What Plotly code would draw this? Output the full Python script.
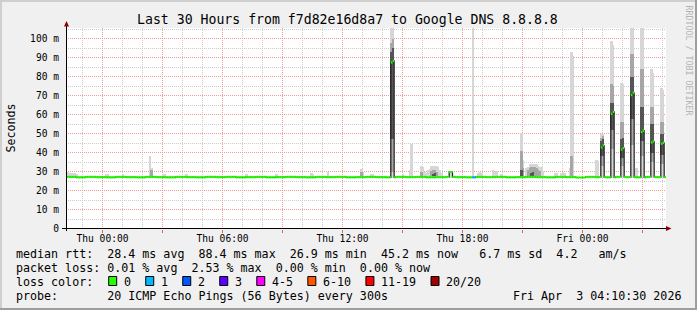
import plotly.graph_objects as go
from datetime import datetime, timedelta

# ------------------------------------------------------------------ data
range_start = "2026-04-01 22:10:30"
range_end = "2026-04-03 04:10:30"
first_step = "2026-04-01 22:10"
step_minutes = 5
n_steps = 360

title_text = "Last 30 Hours from f7d82e16d8a7 to Google DNS 8.8.8.8"
y_title = "Seconds"
watermark = "RRDTOOL / TOBI OETIKER"

y_tick_vals = [0, 10, 20, 30, 40, 50, 60, 70, 80, 90, 100]
y_tick_text = ["0", "10 m", "20 m", "30 m", "40 m", "50 m", "60 m", "70 m", "80 m", "90 m", "100 m"]

x_tick_times = ["2026-04-02 00:00", "2026-04-02 03:00", "2026-04-02 06:00", "2026-04-02 09:00",
                "2026-04-02 12:00", "2026-04-02 15:00", "2026-04-02 18:00", "2026-04-02 21:00",
                "2026-04-03 00:00", "2026-04-03 03:00"]
x_tick_labels = ["Thu 00:00", "", "Thu 06:00", "", "Thu 12:00", "", "Thu 18:00", "", "Fri 00:00", ""]

# median rtt baseline, one value per 30 minutes (ms)
base_median_ms = [27.2, 27.0, 27.2, 27.1, 27.0, 27.2, 27.1, 27.0, 27.2, 27.1,
                  27.0, 27.2, 27.1, 27.0, 27.2, 27.1, 27.2, 27.0, 27.1, 27.2,
                  27.0, 27.1, 27.2, 27.1, 27.0, 27.2, 27.1, 27.2, 27.0, 27.1,
                  27.2, 27.1, 27.0, 27.2, 27.1, 27.2, 27.0, 27.1, 27.2, 27.1,
                  27.0, 27.2, 27.1, 27.2, 27.0, 27.1, 27.2, 27.1, 27.0, 27.2,
                  27.1, 26.9, 27.2, 27.1, 27.0, 27.2, 27.1, 27.0, 27.2, 27.1]

# steps where the median leaves the baseline
spike_times = ["2026-04-02 14:25", "2026-04-02 14:30", "2026-04-02 17:20", "2026-04-02 17:25",
               "2026-04-03 00:55", "2026-04-03 01:00", "2026-04-03 01:25", "2026-04-03 01:30",
               "2026-04-03 01:55", "2026-04-03 02:00", "2026-04-03 02:25", "2026-04-03 02:30",
               "2026-04-03 02:55", "2026-04-03 03:00", "2026-04-03 03:25", "2026-04-03 03:30",
               "2026-04-03 03:55", "2026-04-03 04:00"]
spike_median_ms = [87.6, 88.4, 29.8, 29.8,
                   42.7, 43.8, 60.5, 61.5,
                   41.6, 42.4, 70.4, 71.6,
                   50.9, 51.6, 45.4, 45.9,
                   44.7, 45.2]

# steps with lost pings (count out of 20)
loss_times = ["2026-04-02 18:30", "2026-04-02 18:35"]
loss_counts = [1, 1]

loss_labels = ["0", "1", "2", "3", "4-5", "6-10", "11-19", "20/20"]
loss_colors = ["#26ff00", "#00b8ff", "#0059ff", "#5e00ff", "#ff00ff", "#ff5500", "#ff0000", "#a10000"]

# smoke: outer band (min..max of the 20 pings)
smoke_floor_ms = 26.8
smoke_times = ["2026-04-01 22:10", "2026-04-01 22:15", "2026-04-01 22:20", "2026-04-01 22:25",
               "2026-04-01 22:30", "2026-04-01 22:35", "2026-04-01 22:40", "2026-04-02 00:10",
               "2026-04-02 00:15", "2026-04-02 01:00", "2026-04-02 02:20", "2026-04-02 02:25",
               "2026-04-02 03:00", "2026-04-02 03:05", "2026-04-02 04:10", "2026-04-02 07:10",
               "2026-04-02 08:40", "2026-04-02 10:25", "2026-04-02 10:30", "2026-04-02 11:15",
               "2026-04-02 12:55", "2026-04-02 13:00", "2026-04-02 13:25", "2026-04-02 13:30",
               "2026-04-02 14:25", "2026-04-02 14:30", "2026-04-02 15:00", "2026-04-02 15:20",
               "2026-04-02 15:25", "2026-04-02 15:55", "2026-04-02 16:00", "2026-04-02 16:05",
               "2026-04-02 16:10", "2026-04-02 16:15", "2026-04-02 16:20", "2026-04-02 16:25",
               "2026-04-02 16:30", "2026-04-02 16:35", "2026-04-02 16:40", "2026-04-02 16:45",
               "2026-04-02 16:50", "2026-04-02 16:55", "2026-04-02 17:20", "2026-04-02 17:25",
               "2026-04-02 18:30", "2026-04-02 18:45", "2026-04-02 18:50", "2026-04-02 18:55",
               "2026-04-02 19:30", "2026-04-02 19:35", "2026-04-02 19:40", "2026-04-02 19:55",
               "2026-04-02 20:55", "2026-04-02 21:00", "2026-04-02 21:10", "2026-04-02 21:15",
               "2026-04-02 21:20", "2026-04-02 21:25", "2026-04-02 21:30", "2026-04-02 21:35",
               "2026-04-02 21:40", "2026-04-02 21:45", "2026-04-02 21:50", "2026-04-02 21:55",
               "2026-04-02 22:00", "2026-04-02 22:35", "2026-04-02 22:40", "2026-04-02 22:55",
               "2026-04-02 23:00", "2026-04-02 23:05", "2026-04-02 23:20", "2026-04-02 23:25",
               "2026-04-02 23:30", "2026-04-03 00:40", "2026-04-03 00:45", "2026-04-03 00:55",
               "2026-04-03 01:00", "2026-04-03 01:25", "2026-04-03 01:30", "2026-04-03 01:55",
               "2026-04-03 02:00", "2026-04-03 02:25", "2026-04-03 02:30", "2026-04-03 02:40",
               "2026-04-03 02:55", "2026-04-03 03:00", "2026-04-03 03:25", "2026-04-03 03:30",
               "2026-04-03 03:55", "2026-04-03 04:00"]
smoke_max_ms = [30.0, 29.8, 29.5, 29.5,
                29.3, 29.3, 29.0, 28.8,
                28.6, 28.6, 38.0, 32.0,
                28.8, 28.8, 28.5, 28.5,
                28.5, 29.4, 29.0, 30.0,
                31.5, 30.0, 29.0, 29.0,
                115.0, 115.0, 29.0, 31.0,
                44.7, 33.0, 32.5, 30.0,
                29.5, 31.0, 31.5, 33.0,
                33.0, 33.0, 33.0, 32.5,
                31.0, 29.5, 30.5, 30.5,
                115.0, 29.5, 30.0, 29.5,
                31.0, 30.0, 30.5, 29.0,
                50.4, 36.0, 32.0, 32.5,
                34.0, 34.0, 34.0, 34.0,
                33.8, 33.0, 32.5, 32.5,
                30.5, 29.5, 29.5, 29.5,
                29.6, 29.4, 32.0, 93.0,
                91.0, 36.0, 35.5, 50.0,
                50.0, 99.0, 97.0, 77.0,
                76.0, 115.0, 115.0, 32.0,
                115.0, 112.0, 84.0, 82.0,
                74.0, 73.0]

# smoke: middle band
mid_times = ["2026-04-02 02:25", "2026-04-02 12:55", "2026-04-02 14:25", "2026-04-02 14:30",
             "2026-04-02 15:55", "2026-04-02 16:25", "2026-04-02 16:30", "2026-04-02 16:35",
             "2026-04-02 16:40", "2026-04-02 20:55", "2026-04-02 21:00", "2026-04-02 21:15",
             "2026-04-02 21:20", "2026-04-02 21:25", "2026-04-02 21:30", "2026-04-02 21:35",
             "2026-04-02 21:40", "2026-04-02 21:45", "2026-04-02 21:50", "2026-04-02 23:25",
             "2026-04-03 00:55", "2026-04-03 01:00", "2026-04-03 01:25", "2026-04-03 01:30",
             "2026-04-03 01:55", "2026-04-03 02:00", "2026-04-03 02:25", "2026-04-03 02:30",
             "2026-04-03 02:55", "2026-04-03 03:00", "2026-04-03 03:25", "2026-04-03 03:30",
             "2026-04-03 03:55", "2026-04-03 04:00"]
mid_lo_ms = [27.5, 27.5, 30.0, 30.0,
             27.5, 27.5, 27.5, 27.5,
             27.5, 27.5, 27.5, 27.5,
             27.5, 27.5, 27.5, 27.5,
             27.5, 27.5, 27.5, 27.5,
             33.0, 33.0, 42.0, 42.0,
             33.0, 33.0, 44.0, 44.0,
             38.0, 38.0, 35.0, 35.0,
             34.0, 34.0]
mid_hi_ms = [31.0, 30.0, 98.0, 100.0,
             30.0, 30.5, 31.0, 31.0,
             30.0, 41.0, 32.0, 31.0,
             32.0, 32.5, 32.5, 32.5,
             32.0, 31.0, 30.5, 38.0,
             48.0, 49.0, 76.0, 75.0,
             56.0, 56.0, 92.0, 92.0,
             84.0, 84.0, 64.0, 64.0,
             56.0, 56.0]

# smoke: dark core band
core_times = ["2026-04-02 14:25", "2026-04-02 14:30", "2026-04-02 16:30", "2026-04-02 16:35",
              "2026-04-02 20:55", "2026-04-02 21:25", "2026-04-02 21:30",
              "2026-04-03 00:55", "2026-04-03 01:00", "2026-04-03 01:25", "2026-04-03 01:30",
              "2026-04-03 01:55", "2026-04-03 02:00", "2026-04-03 02:25", "2026-04-03 02:30",
              "2026-04-03 02:55", "2026-04-03 03:00", "2026-04-03 03:25", "2026-04-03 03:30",
              "2026-04-03 03:55", "2026-04-03 04:00"]
core_lo_ms = [47.0, 47.0, 27.5, 27.5,
              27.5, 27.5, 27.5,
              38.0, 38.0, 52.0, 52.0,
              37.0, 37.0, 58.0, 58.0,
              46.0, 46.0, 40.0, 40.0,
              39.0, 39.0]
core_hi_ms = [93.0, 95.0, 29.0, 29.5,
              31.0, 29.5, 30.0,
              46.0, 47.0, 66.0, 66.0,
              47.0, 48.0, 80.0, 80.0,
              64.0, 64.0, 55.0, 55.0,
              50.0, 50.0]

stat_median = ["28.4 ms avg", "88.4 ms max", "26.9 ms min", "45.2 ms now", "6.7 ms sd", "4.2", "am/s"]
stat_loss = ["0.01 % avg", "2.53 % max", "0.00 % min", "0.00 % now"]
probe_text = "20 ICMP Echo Pings (56 Bytes) every 300s"
stamp_text = "Fri Apr  3 04:10:30 2026"

# ------------------------------------------------------------------ geometry
W, H = 697, 310
PL, PR, PT, PB = 66, 666, 28, 229
MONO = "DejaVu Sans Mono"
CHAR_W = 7.02


def fx(px):
    return (px - PL) / (PR - PL)


def fy(py):
    return (PB - py) / (PB - PT)


def T(s):
    return datetime.strptime(s, "%Y-%m-%d %H:%M")


step = timedelta(minutes=step_minutes)
t0 = T(first_step)
step_t = [t0 + i * step for i in range(n_steps)]

# median series (baseline held per 30 min, overridden at spikes)
median = [base_median_ms[i // 6] for i in range(n_steps)]
idx = {t: i for i, t in enumerate(step_t)}
for s, v in zip(spike_times, spike_median_ms):
    median[idx[T(s)]] = v
loss = [0] * n_steps
for s, c in zip(loss_times, loss_counts):
    loss[idx[T(s)]] = c


def loss_cat(c):
    if c <= 3:
        return c
    if c <= 5:
        return 4
    if c <= 10:
        return 5
    if c <= 19:
        return 6
    return 7


fig = go.Figure()
bar_w = step_minutes * 60 * 1000
half = step / 2


def add_band(times, lo, hi, color):
    xs = [T(s) + half for s in times]
    if isinstance(lo, (int, float)):
        lo = [lo] * len(times)
    fig.add_trace(go.Bar(x=xs, base=lo, y=[h - l for h, l in zip(hi, lo)], width=bar_w,
                         marker=dict(color=color, line=dict(width=0)), hoverinfo="skip",
                         showlegend=False))


add_band(smoke_times, smoke_floor_ms, smoke_max_ms, "#d6d6d6")
add_band(mid_times, mid_lo_ms, mid_hi_ms, "#a6a6a6")
add_band(core_times, core_lo_ms, core_hi_ms, "#555555")

# dark median line (step)
fig.add_trace(go.Scatter(x=step_t + [T(first_step) + n_steps * step], y=median + [median[-1]],
                         mode="lines", line=dict(color="#202020", width=1.2, shape="hv"),
                         hoverinfo="skip", showlegend=False))

# coloured median band, by loss category
for cat, col in enumerate(loss_colors):
    xs, ys = [], []
    for i in range(n_steps):
        if loss_cat(loss[i]) == cat:
            xs += [step_t[i], step_t[i] + step, None]
            ys += [median[i], median[i], None]
    if xs:
        fig.add_trace(go.Scatter(x=xs, y=ys, mode="lines", line=dict(color=col, width=2.2),
                                 hoverinfo="skip", showlegend=False, connectgaps=False))

grid_minor = "#cccccc"
grid_major = "#f19a9a"

fig.update_layout(
    width=W, height=H,
    margin=dict(l=PL, r=W - PR, t=PT, b=H - PB, pad=0),
    paper_bgcolor="#f0f0f0", plot_bgcolor="#ffffff",
    barmode="overlay", bargap=0, showlegend=False,
    font=dict(family=MONO, color="#000000"),
    xaxis=dict(type="date", range=[range_start, range_end], tickmode="array",
               tickvals=x_tick_times, ticktext=x_tick_labels,
               showgrid=True, gridcolor=grid_major, griddash="1px,1px", gridwidth=1,
               ticks="outside", ticklen=3, tickwidth=1, tickcolor="#e06666",
               tickfont=dict(family=MONO, size=9.6, color="#000000"),
               showline=False, zeroline=False, fixedrange=True, ticklabelstandoff=-3,
               minor=dict(tickmode="linear", tick0="2026-04-02 00:00", dtick=3600000,
                          showgrid=True, gridcolor=grid_minor, griddash="1px,1px", ticks="")),
    yaxis=dict(range=[-0.265, 105.8], tickmode="array", tickvals=y_tick_vals, ticktext=y_tick_text,
               showgrid=True, gridcolor=grid_major, griddash="1px,1px", gridwidth=1,
               ticks="", tickfont=dict(family=MONO, size=9.6, color="#000000"),
               showline=False, zeroline=False, fixedrange=True, ticklabelstandoff=6,
               minor=dict(tickmode="linear", tick0=0, dtick=5, showgrid=True,
                          gridcolor=grid_minor, griddash="1px,1px", ticks="")),
)

shapes = []
# frame bevel
shapes.append(dict(type="rect", xref="paper", yref="paper", x0=fx(0), x1=fx(W), y0=fy(0), y1=fy(2),
                   fillcolor="#cfcfcf", line=dict(width=0)))
shapes.append(dict(type="rect", xref="paper", yref="paper", x0=fx(0), x1=fx(2), y0=fy(0), y1=fy(H),
                   fillcolor="#cfcfcf", line=dict(width=0)))
shapes.append(dict(type="rect", xref="paper", yref="paper", x0=fx(0), x1=fx(W), y0=fy(H - 2), y1=fy(H),
                   fillcolor="#9e9e9e", line=dict(width=0)))
shapes.append(dict(type="rect", xref="paper", yref="paper", x0=fx(W - 2), x1=fx(W), y0=fy(0), y1=fy(H),
                   fillcolor="#9e9e9e", line=dict(width=0)))
# axes
shapes.append(dict(type="line", xref="paper", yref="paper", x0=fx(62), x1=fx(667), y0=fy(228.5),
                   y1=fy(228.5), line=dict(color="#000000", width=1)))
shapes.append(dict(type="line", xref="paper", yref="paper", x0=fx(66.5), x1=fx(66.5), y0=fy(231),
                   y1=fy(25), line=dict(color="#000000", width=1)))
# arrows
ya = "M {} {} L {} {} L {} {} Z".format(fx(64), fy(26.5), fx(69), fy(26.5), fx(66.5), fy(21))
xa = "M {} {} L {} {} L {} {} Z".format(fx(666), fy(226), fx(666), fy(231), fx(671.5), fy(228.5))
for p in (ya, xa):
    shapes.append(dict(type="path", xref="paper", yref="paper", path=p,
                       fillcolor="#8b0000", line=dict(color="#8b0000", width=0)))

# loss colour legend boxes
annotations = []
bx = 108.7
for lab, col in zip(loss_labels, loss_colors):
    shapes.append(dict(type="rect", xref="paper", yref="paper", x0=fx(bx), x1=fx(bx + 8),
                       y0=fy(276.5), y1=fy(285.5), fillcolor=col, line=dict(color="#000000", width=1)))
    tx = bx + 15.2
    annotations.append(dict(x=fx(tx), y=fy(282.3), text=lab))
    bx = tx + len(lab) * CHAR_W + 14.8

fig.update_layout(shapes=shapes)

NB = "\u00a0"


def txt(s):
    return s.replace(" ", NB)


line1 = "median rtt:  " + "  ".join(stat_median[:4]) + "   " + stat_median[4] + "  " + stat_median[5] + "   " + stat_median[6]
line2 = "packet loss: " + "  ".join(stat_loss)
line3 = "loss color:"
line4 = "probe:       " + probe_text

for s, y in ((line1, 254.3), (line2, 268.3), (line3, 282.3), (line4, 296.3)):
    annotations.append(dict(x=fx(16), y=fy(y), text=s))

ann = []
for a in annotations:
    ann.append(dict(x=a["x"], y=a["y"], text=txt(a["text"]), xref="paper", yref="paper",
                    xanchor="left", yanchor="middle", showarrow=False, borderpad=0, borderwidth=0,
                    font=dict(family=MONO, size=11.66, color="#000000")))
ann.append(dict(x=fx(681), y=fy(296.3), text=txt(stamp_text), xref="paper", yref="paper",
                xanchor="right", yanchor="middle", showarrow=False, borderpad=0, borderwidth=0,
                font=dict(family=MONO, size=11.66, color="#000000")))
ann.append(dict(x=fx(347.5), y=fy(19), text=txt(title_text), xref="paper", yref="paper",
                xanchor="center", yanchor="middle", showarrow=False, borderpad=0, borderwidth=0,
                font=dict(family=MONO, size=13.2, color="#000000")))
ann.append(dict(x=fx(10.5), y=fy(128), text=y_title, xref="paper", yref="paper", textangle=-90,
                xanchor="center", yanchor="middle", showarrow=False, borderpad=0, borderwidth=0,
                font=dict(family=MONO, size=11.66, color="#000000")))
ann.append(dict(x=fx(688.5), y=fy(60), text=txt(watermark), xref="paper", yref="paper", textangle=90,
                xanchor="center", yanchor="middle", showarrow=False, borderpad=0, borderwidth=0,
                font=dict(family=MONO, size=8.3, color="#b4b4b4")))
fig.update_layout(annotations=ann)

fig.write_html("out.html")
